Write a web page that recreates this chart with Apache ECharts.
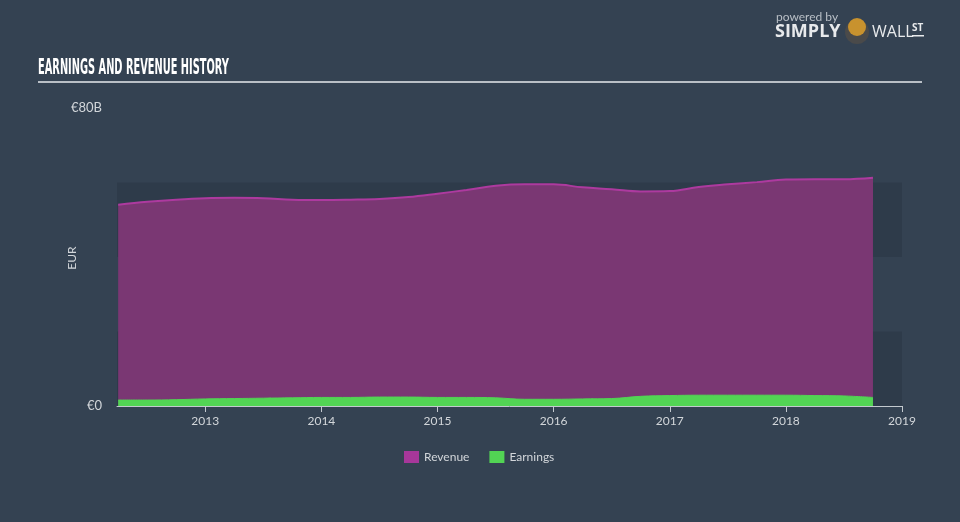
<!DOCTYPE html>
<html>
<head>
<meta charset="utf-8">
<script src="https://cdn.jsdelivr.net/npm/echarts@6/dist/echarts.min.js"></script>
<style>
html,body{margin:0;padding:0;background:#344252;}
#c{width:960px;height:522px;}
</style>
</head>
<body>
<div id="c"></div>
<script>
// Quarter-end dates as decimal years
var periods = [2012.25,2012.5,2012.75,2013,2013.25,2013.5,2013.75,2014,2014.25,2014.5,2014.75,2015,2015.25,2015.5,2015.75,2016,2016.25,2016.5,2016.75,2017,2017.25,2017.5,2017.75,2018,2018.25,2018.5,2018.75];
// Values in billions EUR
var revenue = [54.0,54.8,55.4,55.8,55.9,55.8,55.4,55.3,55.4,55.6,56.1,57.0,58.0,59.1,59.5,59.5,58.7,58.2,57.6,57.7,58.8,59.5,60.1,60.8,60.9,60.9,61.3];
var earnings = [1.6,1.6,1.7,1.9,2.0,2.1,2.2,2.3,2.3,2.4,2.4,2.3,2.3,2.2,1.8,1.8,1.9,2.0,2.6,2.8,2.9,2.9,2.9,2.9,2.8,2.7,2.3];
var xTicks = [2013,2014,2015,2016,2017,2018,2019];
var yLabels = {0:'€0', 80:'€80B'};

function pairs(vals){ return periods.map(function(p,i){ return [p, vals[i]]; }); }

var chart = echarts.init(document.getElementById('c'), null, {renderer:'canvas'});
var font = 'Lato, "Open Sans", sans-serif';
chart.setOption({
  backgroundColor:'#344252',
  animation:false,
  grid:{left:117,right:58,top:108,bottom:116,containLabel:false},
  xAxis:{
    type:'value', min:2012.24, max:2019,
    axisLine:{show:true,lineStyle:{color:'#c3c9cf',width:1}},
    axisTick:{show:true,length:6,lineStyle:{color:'#c3c9cf'},customValues:xTicks},
    axisLabel:{color:'#d2d6da',fontSize:12,fontFamily:font,margin:9,customValues:xTicks,formatter:function(v){return String(Math.round(v));}},
    splitLine:{show:false}
  },
  yAxis:{
    type:'value', min:0, max:80, interval:20,
    axisLine:{show:false}, axisTick:{show:false},
    axisLabel:{color:'#d2d6da',fontSize:13,fontFamily:font,margin:15,formatter:function(v){return yLabels[v]||'';}},
    splitLine:{show:false},
    splitArea:{show:true,areaStyle:{color:['#2e3b4a','rgba(0,0,0,0)']}}
  },
  legend:{
    bottom:54, left:399, itemWidth:15, itemHeight:12, itemGap:20,
    textStyle:{color:'#d2d6da',fontSize:12,fontFamily:font},
    data:[{name:'Revenue',icon:'rect',itemStyle:{color:'#a6379a'}},{name:'Earnings',icon:'rect',itemStyle:{color:'#52d454'}}]
  },
  series:[
    {name:'Revenue',type:'line',data:pairs(revenue),smooth:0.4,showSymbol:false,
     lineStyle:{color:'#ad3a9f',width:2},areaStyle:{color:'#7a3773',opacity:1},itemStyle:{color:'#a6379a'},z:2},
    {name:'Earnings',type:'line',data:pairs(earnings),smooth:0.4,showSymbol:false,
     lineStyle:{color:'#52d454',width:1},areaStyle:{color:'#52d454',opacity:1},itemStyle:{color:'#52d454'},z:3}
  ],
  graphic:[
    {type:'text',x:38,y:58,scaleX:0.52,style:{text:'EARNINGS AND REVENUE HISTORY',fill:'#ffffff',font:'bold 21px "Liberation Sans Narrow","DejaVu Sans Condensed",sans-serif'}},
    {type:'rect',shape:{x:38,y:81,width:884,height:2},style:{fill:'#b9bfc6'}},
    {type:'text',x:72,y:258,rotation:Math.PI/2,style:{text:'EUR',fill:'#d2d6da',font:'12px Lato, "Open Sans", sans-serif',align:'center',verticalAlign:'middle'}},
    {type:'text',x:776,y:11,style:{text:'powered by',fill:'#b9bfc6',font:'12px Lato, sans-serif'}},
    {type:'text',x:775,y:23,style:{text:'SIMPLY',fill:'#e8eaec',font:'bold 18px "Open Sans", sans-serif'}},
    {type:'circle',shape:{cx:857,cy:32,r:12},style:{fill:'#4a4a4a'}},
    {type:'circle',shape:{cx:857,cy:27,r:9},style:{fill:'#c8922e'}},
    {type:'text',x:872,y:24,style:{text:'WALL',fill:'#e8eaec',font:'16px "Open Sans", sans-serif'}},
    {type:'text',x:912,y:23,style:{text:'ST',fill:'#e8eaec',font:'bold 10px "Open Sans", sans-serif'}},
    {type:'rect',shape:{x:912,y:35,width:12,height:1.5},style:{fill:'#e8eaec'}}
  ]
});
</script>
</body>
</html>
